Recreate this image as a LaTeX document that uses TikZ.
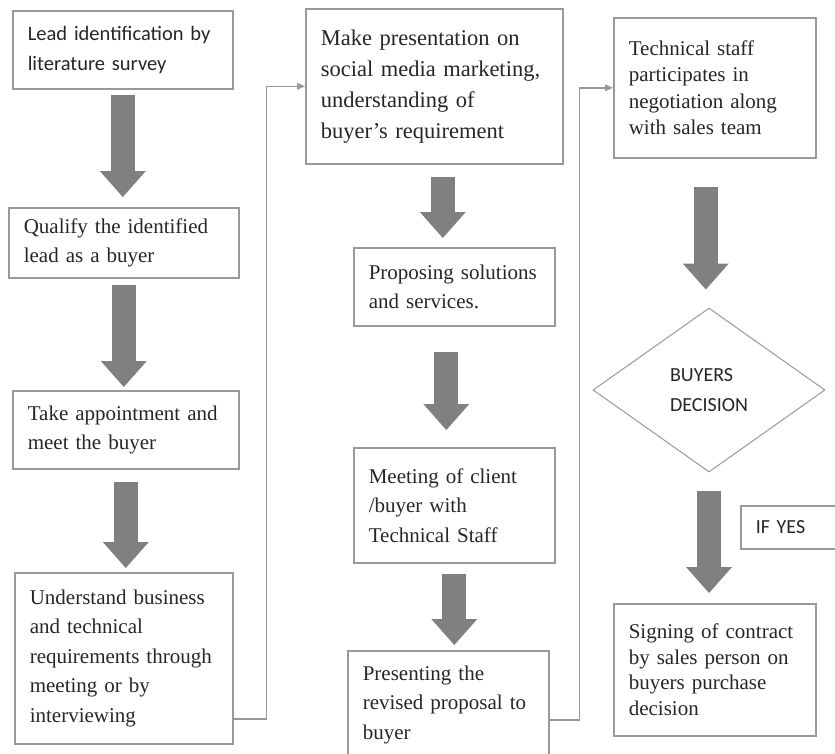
\documentclass[tikz,border=0pt]{standalone}
\usepackage{fontspec}
\setmainfont{Liberation Serif}
\newfontfamily\calibri{Carlito}
\usetikzlibrary{arrows.meta,shapes.geometric}

\begin{document}
\begin{tikzpicture}[x=1pt,y=-1pt,
		box/.style={draw=black!40,line width=1.6pt,anchor=north west,align=left,inner xsep=15pt,inner ysep=4pt,text=black!85,font=\fontsize{21}{29.5}\selectfont},
		bigarrow/.style={draw=black!50,line width=24pt,-{Triangle[length=26pt,width=46pt,line width=0pt]}},
		link/.style={draw=black!40,line width=1.4pt,-{Triangle[length=8pt,width=7pt,line width=0pt]}}]
		\useasboundingbox (0,0) rectangle (835,753);
		\clip (0,0) rectangle (835,753);
		% left column
		\node[box,text width=190pt,minimum height=78pt,font=\calibri\fontsize{20.5}{30}\selectfont] (l1) at (12,10) {Lead identification by\\literature survey};
		\node[box,text width=200pt,minimum height=70pt] (l2) at (8,207) {Qualify the identified\\lead as a buyer};
		\node[box,text width=196pt,minimum height=78pt] (l3) at (12,390) {Take appointment and\\meet the buyer};
		\node[box,text width=188pt,minimum height=171pt] (l4) at (14,572) {Understand business\\and technical\\requirements through\\meeting or by\\interviewing};
		% middle column
		\node[box,text width=227pt,minimum height=155pt,font=\fontsize{22.5}{31}\selectfont] (m1) at (305,8) {Make presentation on\\social media marketing,\\understanding of\\buyer's requirement};
		\node[box,text width=171pt,minimum height=78pt] (m2) at (353,247) {Proposing solutions\\and services.};
		\node[box,text width=171pt,minimum height=115pt] (m3) at (353,447) {Meeting of client\\/buyer with\\Technical Staff};
		\node[box,text width=171pt,minimum height=108pt] (m4) at (347,650) {Presenting the\\revised proposal to\\buyer};
		% right column
		\node[box,text width=172pt,minimum height=140pt,font=\fontsize{21}{26.5}\selectfont] (r1) at (613,17) {Technical staff\\participates in\\negotiation along\\with sales team};
		\node[draw=black!40,line width=1pt,diamond,minimum width=232pt,minimum height=164pt,inner sep=0pt,align=left,text=black!85,font=\calibri\fontsize{20}{30}\selectfont] (dec) at (709,390) {BUYERS\\DECISION};
		\node[box,text width=90pt,minimum height=43pt,font=\calibri\fontsize{20}{22}\selectfont] (yes) at (740,505) {IF YES};
		\node[box,text width=172pt,minimum height=132pt,font=\fontsize{21}{25.5}\selectfont] (r4) at (613,603) {Signing of contract\\by sales person on\\buyers purchase\\decision};
		% block arrows
		\coordinate (a4) at ([xshift=8.5pt]m1.south);
		\coordinate (a5) at ([xshift=-8pt]m2.south);
		\coordinate (a7) at ([xshift=-9pt]r1.south);
		\draw[bigarrow,shorten <=5pt,shorten >=10pt] (l1.south) -- (l1.south |- l2.north);
		\draw[bigarrow,shorten <=6pt,shorten >=3pt] (l2.south) -- (l2.south |- l3.north);
		\draw[bigarrow,shorten <=12pt,shorten >=4pt] (l3.south) -- (l3.south |- l4.north);
		\draw[bigarrow,shorten <=12pt,shorten >=9pt] (a4) -- (a4 |- m2.north);
		\draw[bigarrow,shorten <=25pt,shorten >=17pt] (a5) -- (a5 |- m3.north);
		\draw[bigarrow,shorten <=10pt,shorten >=5pt] (m3.south) -- (m3.south |- m4.north);
		\draw[bigarrow,shorten <=28pt,shorten >=18pt] (a7) -- (a7 |- dec.north);
		\draw[bigarrow,shorten <=18pt,shorten >=10pt] (dec.south) -- (dec.south |- r4.north);
		% links between columns
		\draw[link] ([yshift=-60.5pt]l4.east) -- ++(33,0) |- (m1.west);
		\draw[link] ([yshift=-15pt]m4.east) -- ++(30,0) |- (r1.west);
	\end{tikzpicture}
\end{document}
